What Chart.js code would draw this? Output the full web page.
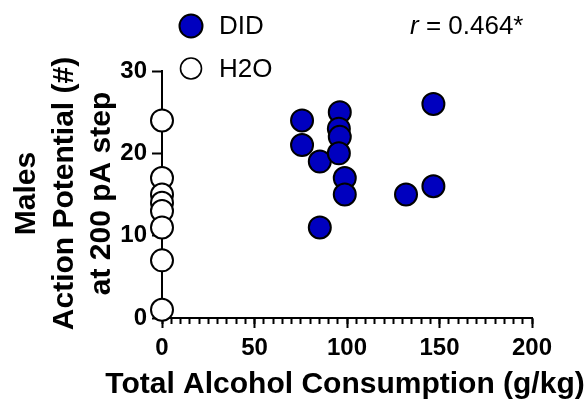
<!DOCTYPE html>
<html><head><meta charset="utf-8">
<script src="https://cdn.jsdelivr.net/npm/chart.js@4"></script>
<style>html,body{margin:0;padding:0;background:#fff;}canvas{display:block}</style>
</head><body>
<canvas id="c" width="587" height="409"></canvas>
<script>
// ---- data ----
const seriesNames = ['DID', 'H2O'];
const didX = [75.7, 75.7, 85.3, 85.3, 96.1, 95.6, 96.1, 95.6, 98.8, 98.8, 131.9, 146.7, 146.7];
const didY = [24, 21, 19, 11, 25, 23, 22, 20, 17, 15, 15, 26, 16];
const h2oX = [0, 0, 0, 0, 0, 0, 0, 0];
const h2oY = [24, 17, 15, 14, 13, 11, 7, 1];
const xTickValues = [0, 50, 100, 150, 200];
const yTickValues = [0, 10, 20, 30];
const xTitle = 'Total Alcohol Consumption (g/kg)';
const yTitle = ['Males', 'Action Potential (#)', 'at 200 pA step'];
const rLabel = 'r';
const rValue = ' = 0.464*';

const FONT = '"Liberation Sans", Arial, Helvetica, sans-serif';
const toPts = (xs, ys) => xs.map((x, i) => ({x: x, y: ys[i]}));

const decorPlugin = {
  id: 'decor',
  afterDraw(chart) {
    const ctx = chart.ctx;
    const area = chart.chartArea;
    // legend
    chart.data.datasets.forEach((ds, i) => {
      const cx = 191, cy = 26 + i * 42.5;
      ctx.save();
      ctx.beginPath();
      ctx.arc(cx, cy, i === 0 ? 11.5 : 10.5, 0, Math.PI * 2);
      ctx.fillStyle = ds.backgroundColor;
      ctx.fill();
      ctx.lineWidth = i === 0 ? 2 : 1.6;
      ctx.strokeStyle = '#000';
      ctx.stroke();
      ctx.fillStyle = '#000';
      ctx.font = '26px ' + FONT;
      ctx.textBaseline = 'alphabetic';
      ctx.textAlign = 'left';
      ctx.fillText(ds.label, 219, cy + 8);
      ctx.restore();
    });
    // correlation annotation
    ctx.save();
    ctx.fillStyle = '#000';
    ctx.textBaseline = 'alphabetic';
    ctx.textAlign = 'left';
    ctx.font = 'italic 26px ' + FONT;
    ctx.fillText(rLabel, 410, 34);
    const w = ctx.measureText(rLabel).width;
    ctx.font = '26px ' + FONT;
    ctx.fillText(rValue, 410 + w, 34);
    ctx.restore();
    // axis titles
    ctx.save();
    ctx.fillStyle = '#000';
    ctx.font = 'bold 30px ' + FONT;
    ctx.textAlign = 'center';
    ctx.textBaseline = 'alphabetic';
    ctx.fillText(xTitle, (area.left + area.right) / 2 - 2, 393);
    ctx.translate(0, (area.top + area.bottom) / 2 - 1);
    ctx.rotate(-Math.PI / 2);
    yTitle.forEach((line, i) => {
      ctx.fillText(line, 0, 35 + i * 37.5);
    });
    ctx.restore();
  }
};

new Chart(document.getElementById('c'), {
  type: 'scatter',
  data: {
    datasets: [
      {label: seriesNames[0], data: toPts(didX, didY), backgroundColor: '#0000BF', borderColor: '#000',
       borderWidth: 2, pointRadius: 11, pointHoverRadius: 11, xAxisID: 'x', yAxisID: 'y'},
      {label: seriesNames[1], data: toPts(h2oX, h2oY), backgroundColor: '#FFFFFF', borderColor: '#000',
       borderWidth: 2, pointRadius: 11, pointHoverRadius: 11, xAxisID: 'x', yAxisID: 'y'}
    ]
  },
  options: {
    responsive: false,
    devicePixelRatio: 1,
    animation: false,
    events: [],
    clip: false,
    layout: {padding: {left: 0, right: 55, top: 71, bottom: 0}},
    plugins: {legend: {display: false}, tooltip: {enabled: false}},
    scales: {
      xMinor: {
        type: 'linear', position: 'bottom', weight: 0, min: 0, max: 200,
        ticks: {display: false, stepSize: 5},
        grid: {drawOnChartArea: false, drawTicks: true, tickLength: 6, tickWidth: 2, tickColor: '#000'},
        border: {display: false},
        afterFit(s) { s.height = 0; }
      },
      x: {
        type: 'linear', position: 'bottom', weight: 1, min: 0, max: 200,
        afterBuildTicks(s) { s.ticks = xTickValues.map(v => ({value: v})); },
        ticks: {color: '#000', font: {family: FONT, size: 24, weight: 'bold'}, padding: 6, maxRotation: 0, autoSkip: false},
        grid: {drawOnChartArea: false, tickLength: 10, tickWidth: 2, tickColor: '#000'},
        border: {display: true, color: '#000', width: 2},
        title: {display: false},
        afterFit(s) { s.height = 91; }
      },
      y: {
        type: 'linear', position: 'left', min: 0, max: 30,
        afterBuildTicks(s) { s.ticks = yTickValues.map(v => ({value: v})); },
        ticks: {color: '#000', font: {family: FONT, size: 24, weight: 'bold'}, padding: 5, autoSkip: false},
        grid: {drawOnChartArea: false, tickLength: 10, tickWidth: 2, tickColor: '#000'},
        border: {display: true, color: '#000', width: 2},
        title: {display: false},
        afterFit(s) { s.width = 162; }
      }
    }
  },
  plugins: [decorPlugin]
});
</script>
</body></html>
